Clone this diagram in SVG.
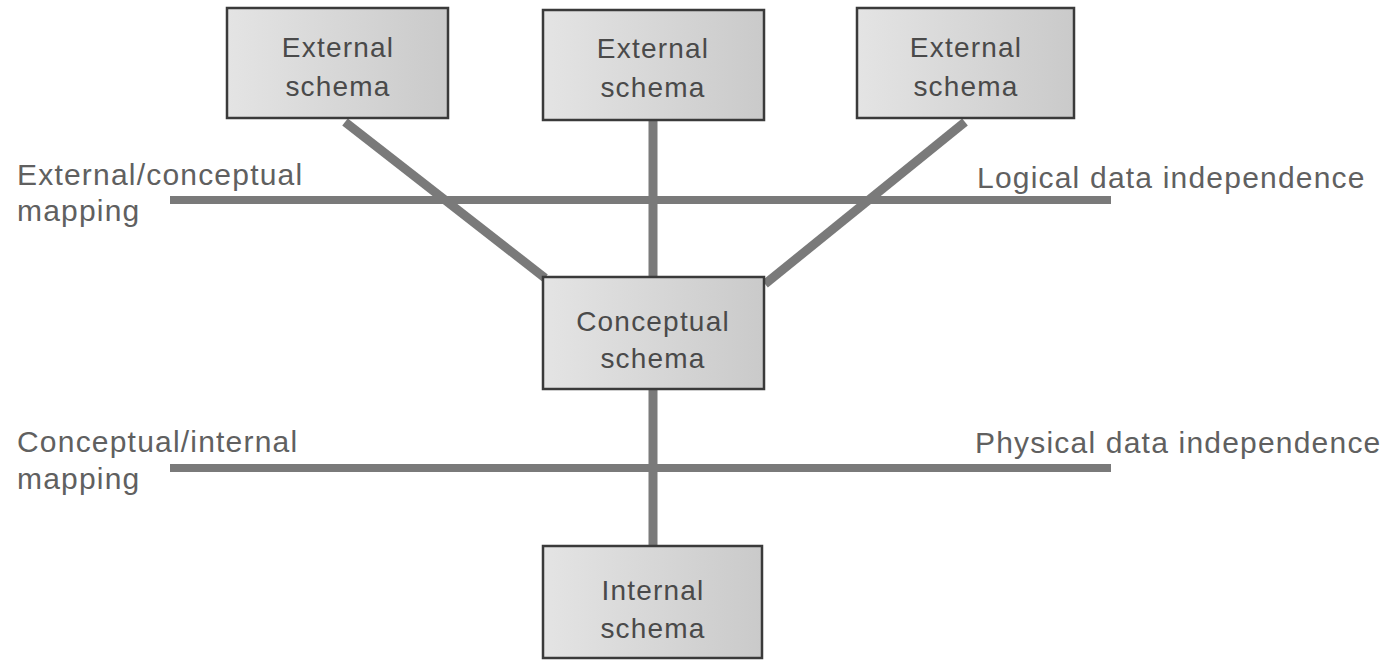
<svg xmlns="http://www.w3.org/2000/svg" width="1389" height="661" viewBox="0 0 1389 661">
<defs>
<linearGradient id="boxfill" x1="0" y1="0" x2="1" y2="0">
<stop offset="0" stop-color="#e4e4e4"/>
<stop offset="1" stop-color="#cacaca"/>
</linearGradient>
</defs>
<style>
.box{fill:url(#boxfill);stroke:#3a3a3a;stroke-width:2.5}
.t{font-family:"Liberation Sans",Arial,sans-serif;font-size:28px;letter-spacing:1.2px;fill:#4a4a4a;text-anchor:middle}
.lbl{font-family:"Liberation Sans",Arial,sans-serif;font-size:30px;letter-spacing:1.2px;fill:#606060}
.c{stroke:#7a7a7a;stroke-width:9;fill:none}
.h{stroke:#7a7a7a;stroke-width:8;fill:none}
</style>
<rect width="1389" height="661" fill="#ffffff"/>
<g id="connectors">
<line class="c" x1="345" y1="122" x2="545" y2="278"/>
<line class="c" x1="653" y1="120" x2="653" y2="277"/>
<line class="c" x1="965" y1="122" x2="765" y2="284"/>
<line class="c" x1="653" y1="389" x2="653" y2="546"/>
<line class="h" x1="170" y1="200" x2="1111" y2="200"/>
<line class="h" x1="170" y1="468" x2="1111" y2="468"/>
</g>
<g id="ext1"><rect class="box" x="227" y="8" width="221" height="110"/><text class="t" x="338" y="57">External</text><text class="t" x="338" y="96">schema</text></g>
<g id="ext2"><rect class="box" x="543" y="10" width="221" height="110"/><text class="t" x="653" y="58">External</text><text class="t" x="653" y="97">schema</text></g>
<g id="ext3"><rect class="box" x="857" y="8" width="217" height="110"/><text class="t" x="966" y="57">External</text><text class="t" x="966" y="96">schema</text></g>
<g id="conceptual"><rect class="box" x="543" y="277" width="221" height="112"/><text class="t" x="653" y="331">Conceptual</text><text class="t" x="653" y="368">schema</text></g>
<g id="internal"><rect class="box" x="543" y="546" width="219" height="112"/><text class="t" x="653" y="600">Internal</text><text class="t" x="653" y="638">schema</text></g>
<g id="labels">
<text class="lbl" x="17" y="185">External/conceptual</text>
<text class="lbl" x="17" y="221">mapping</text>
<text class="lbl" x="977" y="188">Logical data independence</text>
<text class="lbl" x="17" y="452">Conceptual/internal</text>
<text class="lbl" x="17" y="489">mapping</text>
<text class="lbl" x="975" y="453">Physical data independence</text>
</g>
</svg>
